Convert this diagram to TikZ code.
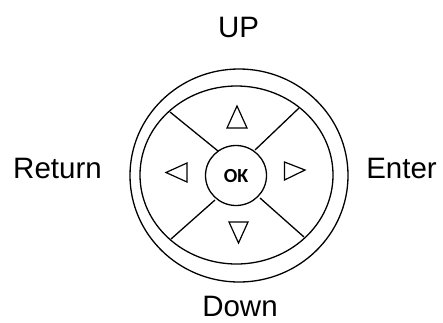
\documentclass[tikz,border=0pt]{standalone}
\usepackage{fontspec}
\setmainfont{Liberation Sans}
\newfontfamily\okfont{Carlito}
\usetikzlibrary{shapes.geometric}
\begin{document}
\begin{tikzpicture}[x=1pt,y=-1pt,
  ring/.style={draw, line width=1.3pt, ellipse, inner sep=0pt},
  seg/.style={draw, line width=1.3pt},
  tri/.style={draw, line width=1.2pt, line join=miter},
  lbl/.style={anchor=base, inner sep=0pt, font=\fontsize{29.5}{32}\selectfont}]
\useasboundingbox (0,0) rectangle (443,322);
\node[ring, minimum width=218pt, minimum height=213pt] (outer) at (239,175.5) {};
\node[ring, minimum width=193pt, minimum height=178pt] (inner) at (236.5,175) {};
\node[ring, minimum width=61pt, minimum height=60pt] (ok) at (236,175.5) {};
\node[inner sep=0pt, font=\okfont\bfseries\fontsize{20}{22}\selectfont] (oktext) at (236,176) {OK};
% segment end points
\coordinate (ul1) at (170,112); \coordinate (ul2) at (218,151);
\coordinate (ur1) at (299,108); \coordinate (ur2) at (255,150);
\coordinate (ll1) at (171,239); \coordinate (ll2) at (215,200);
\coordinate (lr1) at (304,237); \coordinate (lr2) at (260,198);
\draw[seg] (ul1) -- (ul2);
\draw[seg] (ur1) -- (ur2);
\draw[seg] (ll1) -- (ll2);
\draw[seg] (lr1) -- (lr2);
% arrows
\draw[tri] (227,128) -- (247,128) -- (237,106) -- cycle;
\draw[tri] (187,163) -- (187,182) -- (166,172.5) -- cycle;
\draw[tri] (284.5,162) -- (284.5,180) -- (305,170) -- cycle;
\draw[tri] (229,222) -- (248,222) -- (238.5,243) -- cycle;
% labels
\node[lbl] (up) at (238.5,37) {UP};
\node[lbl] (ret) at (57.5,178) {Return};
\node[lbl] (ent) at (401.5,178) {Enter};
\node[lbl] (down) at (240,316) {Down};
\end{tikzpicture}
\end{document}
